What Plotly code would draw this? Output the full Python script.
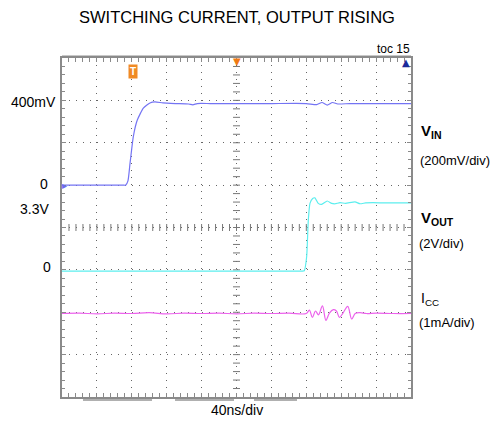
import plotly.graph_objects as go

# ---------------- data ----------------
vin_t = [0, 20, 40, 60, 70, 73, 75.6, 78, 81.7, 86.3, 93.2, 100.8, 106.6, 115.7, 130, 145,
         150, 155, 170, 200, 240, 280, 292, 298, 304, 310, 316, 330, 360, 400]
vin_mv = [0, 0, 0, 0, 0, 0, 20, 104, 228, 307, 363, 388, 393, 388, 385, 383,
          379, 385, 385, 385, 385, 385, 380, 390, 378, 390, 383, 385, 385, 385]

vout_t = [0, 100, 200, 260, 272, 275.5, 277.7, 280.4, 282.3, 284.2, 287.3, 289.9, 293.7, 297.6,
          304, 309, 312.9, 318.6, 325, 335.8, 341.5, 348, 356.4, 370, 400]
vout_v = [-0.06, -0.06, -0.06, -0.06, -0.06, -0.06, -0.04, 0.62, 2.35, 3.14, 3.37, 3.40, 3.14,
          3.09, 3.25, 3.14, 3.12, 3.17, 3.14, 3.21, 3.12, 3.16, 3.17, 3.16, 3.16]

icc_t = [0, 20, 40, 60, 80, 100, 120, 140, 160, 180, 200, 220, 240, 260, 280, 283.5, 287,
         290.5, 294, 298.5, 302.5, 306.5, 311, 314.5, 318, 322, 327.5, 332, 336, 341.5,
         349, 360, 380, 400]
icc_ma = [-0.03, -0.02, -0.04, -0.02, -0.03, -0.01, -0.04, -0.02, -0.03, -0.02, -0.04, -0.02,
          -0.03, -0.02, -0.03, 0.05, -0.12, 0.03, -0.06, 0.15, -0.19, -0.02, 0.06, 0.03,
          -0.12, -0.02, 0.14, -0.16, -0.03, -0.01, -0.03, -0.02, -0.03, -0.03]

# scope settings
T_DIV = 40          # ns/div
N_XDIV = 10
VIN_DIV = 200       # mV/div
VOUT_DIV = 2        # V/div
ICC_DIV = 1         # mA/div
N_YDIV = 8
VIN_ZERO_DIV = 5    # divisions from bottom
VOUT_ZERO_DIV = 3
ICC_ZERO_DIV = 2
TRIG_T = 81

# ---------------- layout geometry ----------------
W, H = 500, 422
L, R, T, B = 62, 411, 58, 397

def px(x):
    return (x - L) / (R - L)

def py(y):
    return (B - y) / (B - T)

GRID = "#8a8a8a"
FONT = "Liberation Sans, Arial, sans-serif"

fig = go.Figure()
fig.add_trace(go.Scatter(x=vin_t, y=vin_mv, mode="lines", yaxis="y",
                         line=dict(color="#7474f4", width=1.2, shape="spline", smoothing=0.5),
                         hoverinfo="skip"))
fig.add_trace(go.Scatter(x=vout_t, y=vout_v, mode="lines", yaxis="y2",
                         line=dict(color="#5ceeee", width=1.2, shape="spline", smoothing=0.5),
                         hoverinfo="skip"))
fig.add_trace(go.Scatter(x=icc_t, y=icc_ma, mode="lines", yaxis="y3",
                         line=dict(color="#ec62ec", width=1.2, shape="spline", smoothing=1.0),
                         hoverinfo="skip"))

# crosshair minor ticks on the centre lines (graticule)
xmax = T_DIV * N_XDIV
ymin = -VIN_ZERO_DIV * VIN_DIV
ymax = (N_YDIV - VIN_ZERO_DIV) * VIN_DIV
ycen = (ymin + ymax) / 2
xcen = xmax / 2
hx = [i * T_DIV / 5 for i in range(1, N_XDIV * 5)]
vy = [ymin + i * VIN_DIV / 5 for i in range(1, N_YDIV * 5)]
fig.add_trace(go.Scatter(x=hx, y=[ycen] * len(hx), mode="markers", yaxis="y",
                         marker=dict(symbol="line-ns", size=5, line=dict(color="#777777", width=1)),
                         hoverinfo="skip"))
fig.add_trace(go.Scatter(x=[xcen] * len(vy), y=vy, mode="markers", yaxis="y",
                         marker=dict(symbol="line-ew", size=5, line=dict(color="#777777", width=1)),
                         hoverinfo="skip"))

axis_common = dict(showline=True, linecolor=GRID, linewidth=2, mirror="allticks",
                   showgrid=True, gridcolor="#666666", gridwidth=1, griddash="1px,6px",
                   ticks="inside", ticklen=4, tickcolor=GRID, showticklabels=False,
                   zeroline=False, fixedrange=True)

fig.update_layout(
    width=W, height=H,
    margin=dict(l=L, r=W - R, t=T, b=H - B),
    paper_bgcolor="white", plot_bgcolor="white",
    showlegend=False,
    xaxis=dict(range=[0, xmax], tick0=0, dtick=T_DIV,
               minor=dict(dtick=T_DIV / 5, ticks="inside", ticklen=3, tickcolor=GRID, showgrid=False),
               **axis_common),
    yaxis=dict(range=[ymin, ymax], tick0=0, dtick=VIN_DIV,
               minor=dict(dtick=VIN_DIV / 5, ticks="inside", ticklen=3, tickcolor=GRID, showgrid=False),
               **axis_common),
    yaxis2=dict(range=[-VOUT_ZERO_DIV * VOUT_DIV, (N_YDIV - VOUT_ZERO_DIV) * VOUT_DIV],
                overlaying="y", visible=False, fixedrange=True),
    yaxis3=dict(range=[-ICC_ZERO_DIV * ICC_DIV, (N_YDIV - ICC_ZERO_DIV) * ICC_DIV],
                overlaying="y", visible=False, fixedrange=True),
)

ann = []
def add(text, x, y, size=14, xanchor="center", color="black", **kw):
    ann.append(dict(text=text, x=px(x), y=py(y), xref="paper", yref="paper",
                    showarrow=False, xanchor=xanchor, yanchor="middle",
                    font=dict(family=kw.pop("family", FONT), size=size, color=color), **kw))

add("SWITCHING CURRENT, OUTPUT RISING", 237, 17, size=16.5,
    family="Liberation Sans Narrow, Arial Narrow, Liberation Sans, sans-serif")
add("toc 15", 412, 49, size=12, xanchor="right")
add("400mV", 58, 102, size=14, xanchor="right")
add("0", 44, 184, size=14)
add("3.3V", 51, 209, size=14, xanchor="right")
add("0", 47, 267, size=14)
add("<b>V<sub>IN</sub></b>", 419, 131, size=15, xanchor="left")
add("(200mV/div)", 418, 160, size=13, xanchor="left")
add("<b>V<sub>OUT</sub></b>", 419, 218, size=15, xanchor="left")
add("(2V/div)", 417, 243, size=13, xanchor="left")
add("I<sub>CC</sub>", 419, 299, size=14, xanchor="left")
add("(1mA/div)", 417, 322, size=13, xanchor="left")
add("40ns/div", 237, 410, size=14)
# scope indicators
ann.append(dict(text="<b>T</b>", x=TRIG_T, xref="x", y=py(71), yref="paper", showarrow=False,
                font=dict(family=FONT, size=10, color="white"), bgcolor="#f08a24",
                borderpad=1, xanchor="center", yanchor="middle"))
ann.append(dict(text="▼", x=xcen, xref="x", y=py(61), yref="paper", showarrow=False,
                font=dict(family="DejaVu Sans", size=10, color="#f07a14"),
                xanchor="center", yanchor="middle"))
ann.append(dict(text="▲", x=px(406), xref="paper", y=py(62), yref="paper", showarrow=False,
                font=dict(family="DejaVu Sans", size=10, color="#1a2a9a"),
                xanchor="center", yanchor="middle"))
ann.append(dict(text="▸", x=px(64), xref="paper", y=0, yref="y", showarrow=False,
                font=dict(family="DejaVu Sans", size=10, color="#6a6af2"),
                xanchor="center", yanchor="middle"))
fig.update_layout(annotations=ann)

# light grey bars under the bottom border
shapes = []
for a, b in [(83, 152), (175, 234), (254, 297)]:
    shapes.append(dict(type="line", xref="paper", yref="paper", x0=px(a), x1=px(b),
                       y0=py(400), y1=py(400), line=dict(color="#b0b0b0", width=2)))
shapes.append(dict(type="line", xref="paper", yref="paper", x0=0, x1=1,
                   y0=py(55.5), y1=py(55.5), line=dict(color="#c8c8c8", width=1)))
fig.update_layout(shapes=shapes)

fig.write_html("out.html", config={"displayModeBar": False},
               post_script="document.body.style.margin='0';document.body.style.padding='0';")
